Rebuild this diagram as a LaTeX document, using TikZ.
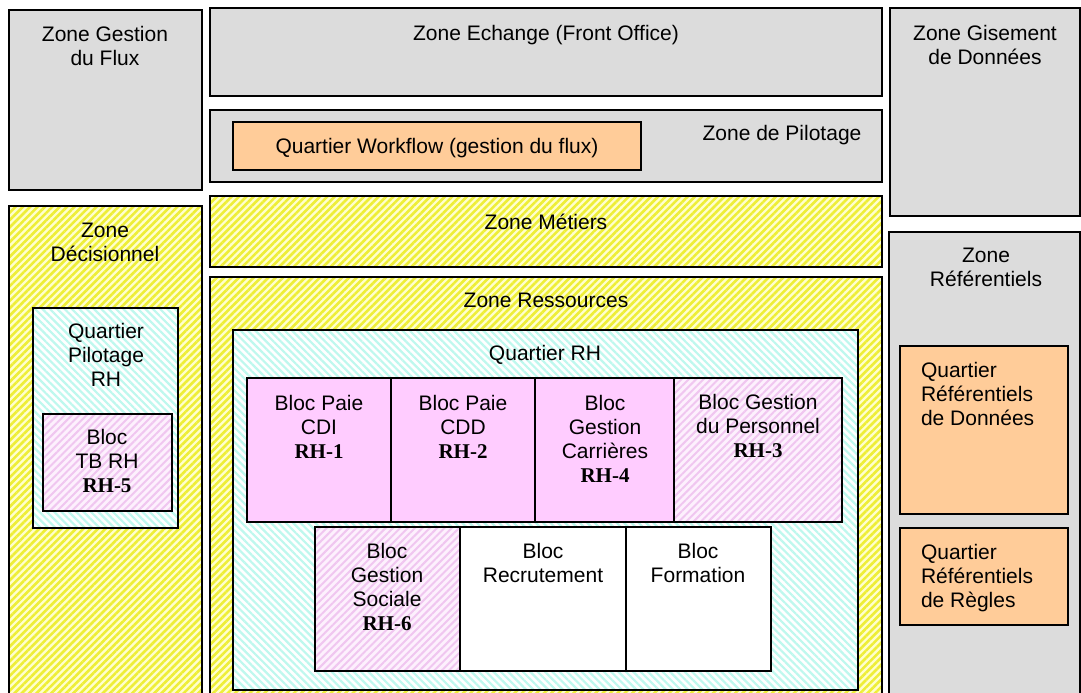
\documentclass[tikz,border=0pt]{standalone}
\usepackage{fontspec}
\setmainfont{Liberation Sans}
\newfontfamily\rhfont{Liberation Serif}
\usetikzlibrary{patterns.meta}
\definecolor{zgray}{RGB}{220,220,220}
\definecolor{zorange}{RGB}{255,204,153}
\definecolor{zpink}{RGB}{255,204,255}
\definecolor{ylw}{RGB}{238,238,55}
\definecolor{ylwbg}{RGB}{255,255,205}
\definecolor{cyn}{RGB}{190,248,238}
\definecolor{pnk}{RGB}{240,198,240}
\definecolor{pnkbg}{RGB}{253,240,253}
\newcommand\rh[1]{{\rhfont\bfseries #1}}
\newcommand\fs{\rule{0pt}{17pt}}
\newcommand\zb[6]{\node[#1, minimum width={#4-#2}, minimum height={#5-#3}] (#6) at (#2,#3) {};}
\tikzset{
 bx/.style={draw=black, line width=2pt, anchor=north west, inner sep=0pt, outer sep=0pt},
 grayz/.style={bx, fill=zgray},
 orangez/.style={bx, fill=zorange},
 pinkz/.style={bx, fill=zpink},
 whitez/.style={bx, fill=white},
 yellowz/.style={bx, preaction={fill=ylwbg}, pattern={Lines[angle=45,distance=5.2pt,line width=2.6pt]}, pattern color=ylw},
 cyanz/.style={bx, preaction={fill=white}, pattern={Lines[angle=-45,distance=5.2pt,line width=2.2pt]}, pattern color=cyn},
 pinkh/.style={bx, preaction={fill=pnkbg}, pattern={Lines[angle=45,distance=5.2pt,line width=2pt]}, pattern color=pnk},
 tx/.style={anchor=north, yshift=17pt, inner sep=0pt, outer sep=0pt, align=center, font=\fontsize{21}{24.3}\selectfont},
 txl/.style={tx, anchor=north west, align=left},
}
\begin{document}
\begin{tikzpicture}[x=1pt,y=-1pt]
\useasboundingbox (0,0) rectangle (1081,693);
\clip (0,0) rectangle (1081,693);
\fill[white] (0,0) rectangle (1081,693);
% zones
\zb{grayz}{9}{10}{202}{190}{flux}
\zb{grayz}{210}{8}{882}{96}{echange}
\zb{grayz}{210}{110}{882}{182}{pilotage}
\zb{orangez}{233}{122}{641}{170}{workflow}
\zb{grayz}{890}{8}{1080}{216}{gisement}
\zb{yellowz}{210}{196}{882}{267}{metiers}
\zb{yellowz}{9}{206}{202}{710}{decision}
\zb{grayz}{889}{232}{1080}{710}{referentiels}
\zb{yellowz}{210}{277}{882}{710}{ressources}
% quartiers
\zb{cyanz}{33}{308}{178}{528}{pilrh}
\zb{pinkh}{43}{414}{172}{511}{tbrh}
\zb{cyanz}{233}{330}{858}{690}{qrh}
\zb{orangez}{900}{346}{1068}{514}{refdon}
\zb{orangez}{900}{528}{1068}{625}{refreg}
% blocs
\zb{pinkz}{247}{378}{391}{522}{cdi}
\zb{pinkz}{391}{378}{535}{522}{cdd}
\zb{pinkz}{535}{378}{674}{522}{carr}
\zb{pinkh}{674}{378}{842}{522}{pers}
\zb{pinkh}{315}{527}{460}{671}{soc}
\zb{whitez}{460}{527}{626}{671}{recr}
\zb{whitez}{626}{527}{771}{671}{form}
% texts
\node[tx] (t-flux) at (105,41) {\fs Zone Gestion\\du Flux};
\node[tx] (t-echange) at (546,41) {\fs Zone Echange (Front Office)};
\node[tx] (t-pilotage) at (782,140) {\fs Zone de Pilotage};
\node[tx] (t-workflow) at (437,153) {\fs Quartier Workflow (gestion du flux)};
\node[tx] (t-gisement) at (985,40) {\fs Zone Gisement\\de Données};
\node[tx] (t-metiers) at (546,229) {\fs Zone Métiers};
\node[tx] (t-decision) at (105,237) {\fs Zone\\Décisionnel};
\node[tx] (t-ressources) at (546,307) {\fs Zone Ressources};
\node[tx] (t-referentiels) at (986,262) {\fs Zone\\Référentiels};
\node[tx] (t-pilrh) at (106,338) {\fs Quartier\\Pilotage\\RH};
\node[tx] (t-tbrh) at (107,444) {\fs Bloc\\TB RH\\\rh{RH-5}};
\node[tx] (t-qrh) at (545,360) {\fs Quartier RH};
\node[tx] (t-cdi) at (319,410) {\fs Bloc Paie\\CDI\\\rh{RH-1}};
\node[tx] (t-cdd) at (463,410) {\fs Bloc Paie\\CDD\\\rh{RH-2}};
\node[tx] (t-carr) at (605,410) {\fs Bloc\\Gestion\\Carrières\\\rh{RH-4}};
\node[tx] (t-pers) at (758,409) {\fs Bloc Gestion\\du Personnel\\\rh{RH-3}};
\node[tx] (t-soc) at (387,558) {\fs Bloc\\Gestion\\Sociale\\\rh{RH-6}};
\node[tx] (t-recr) at (543,558) {\fs Bloc\\Recrutement};
\node[tx] (t-form) at (698,558) {\fs Bloc\\Formation};
\node[txl] (t-refdon) at (921,377) {\fs Quartier\\Référentiels\\de Données};
\node[txl] (t-refreg) at (921,559) {\fs Quartier\\Référentiels\\de Règles};
\end{tikzpicture}
\end{document}
